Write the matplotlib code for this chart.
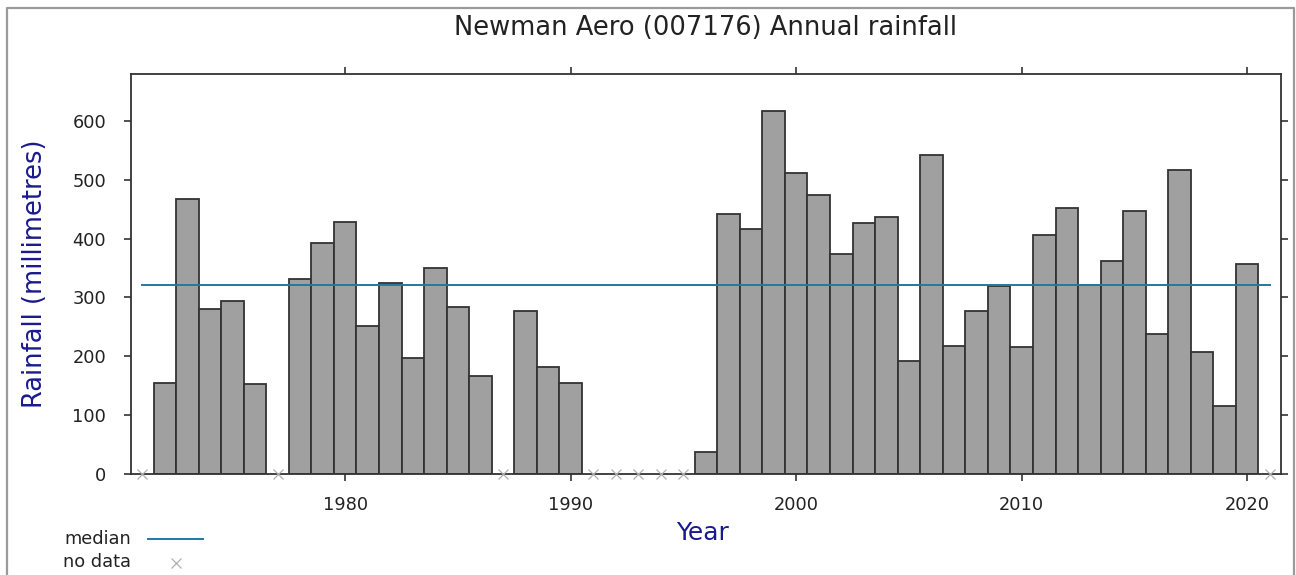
import matplotlib
matplotlib.use("Agg")
import matplotlib.pyplot as plt
from matplotlib.lines import Line2D

# Annual rainfall (mm) at Newman Aero, by year
years = [1972, 1973, 1974, 1975, 1976,
         1978, 1979, 1980, 1981, 1982, 1983, 1984, 1985, 1986,
         1988, 1989, 1990,
         1996, 1997, 1998, 1999, 2000, 2001, 2002, 2003, 2004, 2005,
         2006, 2007, 2008, 2009, 2010, 2011, 2012, 2013, 2014, 2015,
         2016, 2017, 2018, 2019, 2020]
rainfall = [155, 468, 280, 294, 153,
            331, 393, 428, 251, 324, 197, 350, 284, 167,
            277, 181, 155,
            37, 442, 416, 618, 512, 475, 374, 426, 437, 192,
            543, 218, 277, 320, 216, 407, 452, 322, 362, 447,
            237, 517, 207, 115, 357]
no_data_years = [1971, 1977, 1987, 1991, 1992, 1993, 1994, 1995, 2021]
median_rainfall = 322
median_span = [1971, 2021]

x_ticks = [1980, 1990, 2000, 2010, 2020]
y_ticks = [0, 100, 200, 300, 400, 500, 600]

W, H = 1296, 575
fig = plt.figure(figsize=(W / 100, H / 100), dpi=100)
fig.patch.set_facecolor("white")

ax = fig.add_axes([131 / W, (H - 473.7) / H, 1150 / W, 399.4 / H])

ax.bar(years, rainfall, width=1.0, color="#a0a0a0", edgecolor="#333333",
       linewidth=1.3, zorder=2)
ax.plot(median_span, [median_rainfall, median_rainfall], color="#1f7aa5",
        linewidth=1.4, zorder=3)
ax.plot(no_data_years, [0] * len(no_data_years), linestyle="none", marker="x",
        markersize=7, markeredgewidth=0.9, color="#b0b0b0", zorder=4,
        clip_on=False)

ax.set_xlim(1970.5, 2021.5)
ax.set_ylim(0, 680)
ax.set_xticks(x_ticks)
ax.set_yticks(y_ticks)
ax.tick_params(axis="both", which="both", direction="out", length=5,
               width=1.2, color="#333333", labelsize=12.8, labelcolor="#222222")
ax.tick_params(axis="y", pad=13)
ax.tick_params(axis="x", pad=11)
ax.tick_params(top=True, right=True, labeltop=False, labelright=False)
for s in ax.spines.values():
    s.set_color("#333333")
    s.set_linewidth(1.3)

fig.text(706 / W, 1 - 28 / H, "Newman Aero (007176) Annual rainfall",
         ha="center", va="center", fontsize=18.5, color="#222222")
fig.text(35 / W, 1 - 274 / H, "Rainfall (millimetres)", rotation=90,
         ha="center", va="center", fontsize=18.5, color="#1a1a8e")
fig.text(703 / W, 1 - 533 / H, "Year", ha="center", va="center",
         fontsize=18, color="#1a1a8e")

# key below the plot
fig.text(131 / W, 1 - 539 / H, "median", ha="right", va="center",
         fontsize=12.8, color="#222222")
fig.add_artist(Line2D([148 / W, 203 / W], [1 - 539 / H, 1 - 539 / H],
                      color="#1f7aa5", linewidth=1.4))
fig.text(131 / W, 1 - 562 / H, "no data", ha="right", va="center",
         fontsize=12.8, color="#222222")
fig.add_artist(Line2D([176 / W], [1 - 563 / H], linestyle="none", marker="x",
                      markersize=7, markeredgewidth=0.9, color="#b0b0b0"))

# outer frame (top, left, right edges)
fig.add_artist(Line2D([7 / W, 7 / W, 1294 / W, 1294 / W],
                      [0, 1 - 8 / H, 1 - 8 / H, 0],
                      color="#9a9a9a", linewidth=1.6))

fig.savefig("out.png", dpi=100)
